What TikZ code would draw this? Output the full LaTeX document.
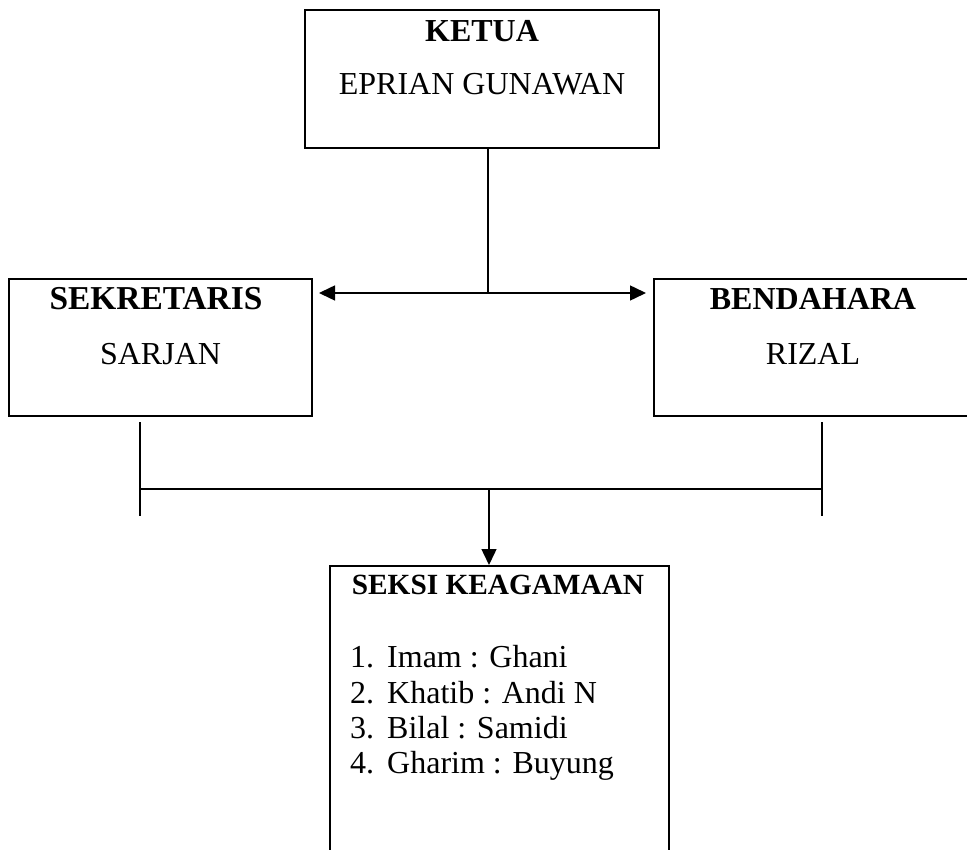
\documentclass[tikz,border=0pt]{standalone}
\usepackage{fontspec}
\setmainfont{Liberation Serif}
\usetikzlibrary{arrows.meta}

\tikzset{
  unitbox/.style={draw, line width=2pt, inner sep=0pt},
  boxtext/.style={anchor=base, inner sep=0pt, font=\fontsize{32}{38}\selectfont},
  boxtitle/.style={boxtext, font=\fontsize{32}{38}\selectfont\bfseries},
  listtext/.style={anchor=base west, inner sep=0pt, font=\fontsize{32}{38}\selectfont},
  link/.style={line width=1.5pt},
  linkarrow/.style={line width=1.5pt, -{Triangle[length=16pt,width=15pt]}}
}

\begin{document}
\begin{tikzpicture}[x=1pt, y=-1pt]
\useasboundingbox (0,0) rectangle (967,850);
\clip (0,0) rectangle (967,850);

% Draw the boxes
\node[unitbox, minimum width=354pt, minimum height=138pt] (ketua) at (482,79) {};
\node[unitbox, minimum width=303pt, minimum height=137pt] (sekre) at (160.5,347.5) {};
\node[unitbox, minimum width=318pt, minimum height=137pt] (benda) at (813,347.5) {};
\node[unitbox, minimum width=339pt, minimum height=340pt] (seksi) at (499.5,736) {};

% Texts in the boxes
\node[boxtitle] (ketuatitle) at (482,42) {KETUA};
\node[boxtext] (ketuaname) at (482,95) {EPRIAN GUNAWAN};
\node[boxtitle, font=\fontsize{33.4}{38}\selectfont\bfseries] (sekretitle) at (156,310) {SEKRETARIS};
\node[boxtext] (sekrename) at (160.5,365) {SARJAN};
\node[boxtitle] (bendatitle) at (813,310) {BENDAHARA};
\node[boxtext] (bendaname) at (813,365) {RIZAL};
\node[boxtitle, font=\fontsize{29.3}{35}\selectfont\bfseries] (seksititle) at (498,594) {SEKSI KEAGAMAAN};

% The list of the seksi
\node[listtext] (num1) at (350,667) {1.};
\node[listtext] (num2) at (350,703) {2.};
\node[listtext] (num3) at (350,738) {3.};
\node[listtext] (num4) at (350,773) {4.};
\node[listtext] (item1) at (387,667) {Imam : Ghani};
\node[listtext] (item2) at (387,703) {Khatib : Andi N};
\node[listtext] (item3) at (387,738) {Bilal : Samidi};
\node[listtext] (item4) at (387,773) {Gharim : Buyung};

% Selected points of the lines
\coordinate (junction) at (488,293);
\coordinate (sekretip) at (319,293);
\coordinate (bendatip) at (646,293);
\coordinate (sekretop) at (140,422);
\coordinate (sekrebot) at (140,516);
\coordinate (bendatop) at (822,422);
\coordinate (bendabot) at (822,516);
\coordinate (bus) at (489,489);

% Ketua down to the two arrows
\draw[link] (junction |- ketua.south) -- (junction);
\draw[linkarrow] (junction) -- (sekretip);
\draw[linkarrow] (junction) -- (bendatip);

% Sekretaris and bendahara down to the seksi
\draw[link] (sekretop) -- (sekrebot);
\draw[link] (bendatop) -- (bendabot);
\draw[link] (sekretop |- bus) -- (bendatop |- bus);
\draw[linkarrow] (bus) -- (bus |- seksi.north);
\end{tikzpicture}
\end{document}
